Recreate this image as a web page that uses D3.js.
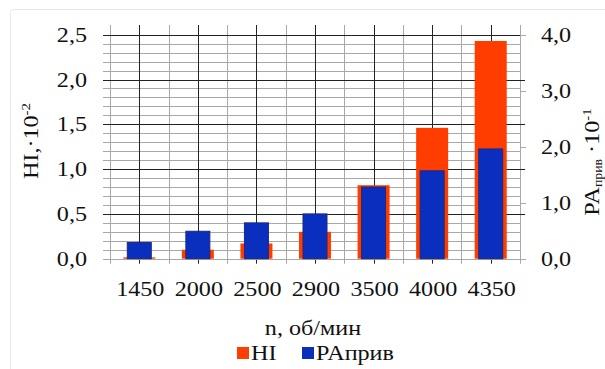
<!DOCTYPE html>
<html>
<head>
<meta charset="utf-8">
<script src="https://cdn.jsdelivr.net/npm/d3@7"></script>
<style>
  body { margin: 0; background: #fff; }
  svg text { font-family: "Liberation Serif", "Times New Roman", "DejaVu Serif", serif; fill: #111; }
</style>
</head>
<body>
<svg></svg>
<script>
// categories and the two series (left axis HI*10^-2, right axis PA*10^-1)
let categories = ['1450', '2000', '2500', '2900', '3500', '4000', '4350'];
let hiValues = [0.015, 0.1, 0.17, 0.3, 0.82, 1.46, 2.43];
let paValues = [0.29, 0.49, 0.64, 0.8, 1.28, 1.57, 1.96];
let leftTicks = [0, 0.5, 1, 1.5, 2, 2.5];
let rightTicks = [0, 1, 2, 3, 4];

let width = 605;
let height = 369;
let plotLeft = 110, plotRight = 520, plotTop = 34.7, plotBottom = 258.7;
let fontSize = 21;
let stretch = 1.15; // the source picture's text is a bit wide

let svg = d3.select('svg').attr('width', width).attr('height', height);

// faint frame round the chart
svg.append('rect')
   .attr('x', 10.5).attr('y', 9.5)
   .attr('width', 620).attr('height', 380)
   .attr('rx', 3)
   .attr('fill', 'none')
   .attr('stroke', '#e6e6e6');

let xScale = d3.scaleBand().domain(categories).range([plotLeft, plotRight]).padding(0);
let yLeft = d3.scaleLinear().domain([0, 2.5]).range([plotBottom, plotTop]);
let yRight = d3.scaleLinear().domain([0, 4]).range([plotBottom, plotTop]);

let grid = svg.append('g');

// minor horizontal lines every 0.1
let minor = d3.range(0, 2.501, 0.1).filter(v => Math.abs(v * 2 - Math.round(v * 2)) > 1e-6);
grid.selectAll('.hminor')
    .data(minor).enter().append('line')
    .attr('x1', plotLeft - 7).attr('x2', plotRight)
    .attr('y1', d => Math.round(yLeft(d)) + 0.5)
    .attr('y2', d => Math.round(yLeft(d)) + 0.5)
    .attr('stroke', '#a8a8a8');

// vertical lines: gray at category edges, dark at centres
let edges = categories.map(c => xScale(c)).concat([plotRight]);
grid.selectAll('.vedge')
    .data(edges).enter().append('line')
    .attr('x1', d => Math.round(d) + 0.5).attr('x2', d => Math.round(d) + 0.5)
    .attr('y1', 25).attr('y2', plotBottom + 5)
    .attr('stroke', '#a8a8a8');

grid.selectAll('.vcenter')
    .data(categories).enter().append('line')
    .attr('x1', d => Math.round(xScale(d) + xScale.bandwidth() / 2) + 0.5)
    .attr('x2', d => Math.round(xScale(d) + xScale.bandwidth() / 2) + 0.5)
    .attr('y1', 25).attr('y2', plotBottom + 5)
    .attr('stroke', '#222');

// major horizontal lines
grid.selectAll('.hmajor')
    .data(leftTicks).enter().append('line')
    .attr('x1', plotLeft - 7).attr('x2', plotRight + 5)
    .attr('y1', d => Math.round(yLeft(d)) + 0.5)
    .attr('y2', d => Math.round(yLeft(d)) + 0.5)
    .attr('stroke', d => d === 0 ? '#a8a8a8' : '#222');

// right axis ticks
grid.selectAll('.rtick')
    .data(rightTicks).enter().append('line')
    .attr('x1', plotRight).attr('x2', plotRight + 6)
    .attr('y1', d => Math.round(yRight(d)) + 0.5)
    .attr('y2', d => Math.round(yRight(d)) + 0.5)
    .attr('stroke', '#a8a8a8');

// bars: HI (orange, wider) behind PA (blue)
let hiW = 32, paW = 24;
svg.selectAll('.hi')
   .data(hiValues).enter().append('rect')
   .attr('x', (d, i) => xScale(categories[i]) + xScale.bandwidth() / 2 - hiW / 2)
   .attr('y', d => yLeft(d))
   .attr('width', hiW)
   .attr('height', d => plotBottom - yLeft(d))
   .attr('fill', '#ff3d00');

svg.selectAll('.pa')
   .data(paValues).enter().append('rect')
   .attr('x', (d, i) => xScale(categories[i]) + xScale.bandwidth() / 2 - paW / 2)
   .attr('y', d => yRight(d))
   .attr('width', paW)
   .attr('height', d => plotBottom - yRight(d))
   .attr('fill', '#0a2fbf')
   .attr('stroke', '#1c2a7a')
   .attr('stroke-width', 1);

// text helper: places a slightly widened text at x,y
let addText = (x, y, txt, anchor, rot) => {
  return svg.append('text')
     .attr('transform', 'translate(' + x + ',' + y + ')' + (rot ? ' rotate(' + rot + ')' : '') + ' scale(' + stretch + ',1)')
     .attr('text-anchor', anchor || 'start')
     .attr('font-size', fontSize)
     .text(txt);
}

let fmt = d3.format('.1f');
leftTicks.forEach(d => addText(87, yLeft(d) + 7, fmt(d).replace('.', ','), 'end'));
rightTicks.forEach(d => addText(541, yRight(d) + 7, fmt(d).replace('.', ',')));
categories.forEach(d => addText(xScale(d) + xScale.bandwidth() / 2 + 1, 296, d, 'middle'));

// axis titles
addText(313, 335, 'n, об/мин', 'middle');

let lt = addText(38, 141, '', 'middle', -90);
lt.append('tspan').text('HI,·10');
lt.append('tspan').attr('dy', -8).attr('font-size', 13).text('-2');

let rt = addText(599, 162, '', 'middle', -90);
rt.append('tspan').text('PA');
rt.append('tspan').attr('dy', 3).attr('font-size', 12).text('прив');
rt.append('tspan').attr('dy', -3).text(' ·10');
rt.append('tspan').attr('dy', -8).attr('font-size', 13).text('-1');

// legend
let legend = [['HI', '#ff3d00'], ['PAприв', '#0a2fbf']];
let lx = [237, 302];
legend.forEach((l, i) => {
  svg.append('rect')
     .attr('x', lx[i]).attr('y', 347)
     .attr('width', 12).attr('height', 12)
     .attr('fill', l[1]);
  addText(lx[i] + 14, 360, l[0]);
});
</script>
</body>
</html>
